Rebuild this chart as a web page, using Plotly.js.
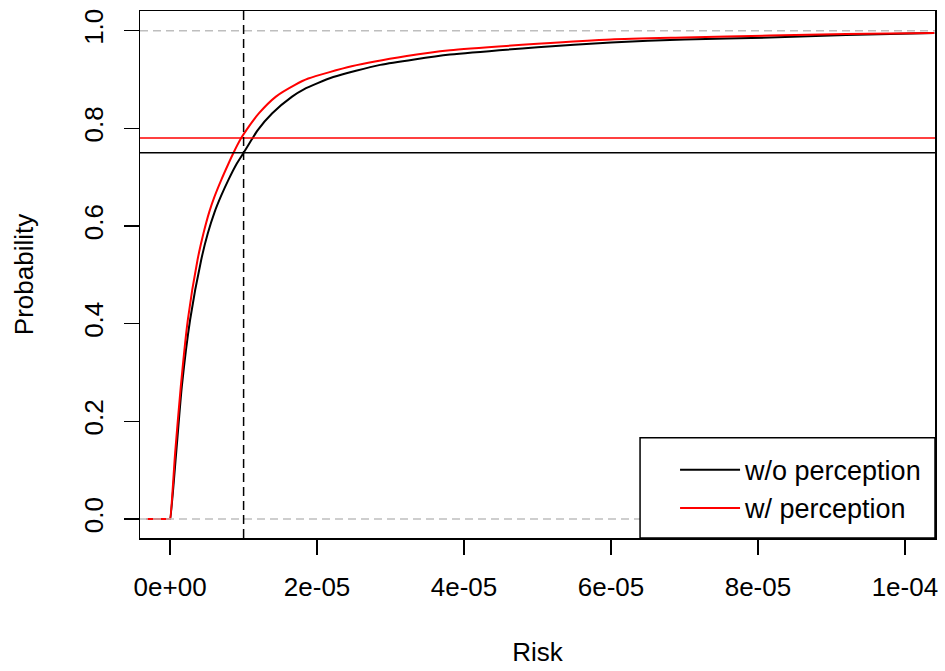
<!DOCTYPE html>
<html>
<head>
<meta charset="utf-8">
<script src="https://cdn.plot.ly/plotly-3.0.1.min.js"></script>
<style>html,body{margin:0;padding:0;background:#fff;}#chart{width:945px;height:671px;}</style>
</head>
<body>
<div id="chart"></div>
<script>
// Risk values (x) and cumulative probability (y)
const riskNoPerception = [-3.2e-6, -0.05e-6, 0, 0.82e-6, 1.59e-6, 2.72e-6, 4.22e-6, 5.13e-6, 6.04e-6, 6.95e-6, 7.95e-6, 9.08e-6, 1.0e-5, 1.11e-5, 1.19e-5, 1.39e-5, 1.66e-5, 1.82e-5, 2.22e-5, 2.86e-5, 3.81e-5, 5.0e-5, 6.0e-5, 7.0e-5, 8.16e-5, 9.2e-5, 1.04e-4];
const probNoPerception = [0, 0, 0, 0.135, 0.271, 0.408, 0.530, 0.585, 0.628, 0.662, 0.695, 0.728, 0.750, 0.777, 0.796, 0.831, 0.865, 0.880, 0.905, 0.930, 0.951, 0.966, 0.976, 0.982, 0.986, 0.991, 0.995];
const riskPerception = [-3.2e-6, -0.05e-6, 0, 0.68e-6, 1.45e-6, 2.41e-6, 3.72e-6, 4.54e-6, 5.31e-6, 6.04e-6, 6.95e-6, 7.95e-6, 8.63e-6, 9.67e-6, 1.04e-5, 1.21e-5, 1.44e-5, 1.70e-5, 1.88e-5, 2.47e-5, 3.22e-5, 3.81e-5, 5.0e-5, 6.0e-5, 7.0e-5, 8.16e-5, 9.2e-5, 1.04e-4];
const probPerception = [0, 0, 0, 0.135, 0.271, 0.408, 0.530, 0.585, 0.628, 0.660, 0.694, 0.728, 0.750, 0.780, 0.797, 0.831, 0.865, 0.889, 0.902, 0.927, 0.948, 0.960, 0.973, 0.982, 0.986, 0.990, 0.993, 0.995];

const seriesNames = ["w/o perception", "w/ perception"];
const seriesColors = ["#000000", "#ff0000"];
const thresholdProb = [0.75, 0.78];   // horizontal reference levels
const thresholdRisk = 1e-5;           // vertical reference
const boundLevels = [0, 1];           // gray dashed bounds

const xTickVals = [0, 2e-5, 4e-5, 6e-5, 8e-5, 1e-4];
const xTickText = ["0e+00", "2e-05", "4e-05", "6e-05", "8e-05", "1e-04"];
const yTickVals = [0, 0.2, 0.4, 0.6, 0.8, 1.0];
const yTickText = ["0.0", "0.2", "0.4", "0.6", "0.8", "1.0"];

const FONT = "Liberation Sans, Arial, sans-serif";

const traces = [
  {x: riskNoPerception, y: probNoPerception, name: seriesNames[0], mode: "lines",
   line: {color: seriesColors[0], width: 2, shape: "spline", smoothing: 0.6}},
  {x: riskPerception, y: probPerception, name: seriesNames[1], mode: "lines",
   line: {color: seriesColors[1], width: 2, shape: "spline", smoothing: 0.6}}
];

const shapes = [];
boundLevels.forEach(v => shapes.push({type: "line", xref: "paper", x0: 0, x1: 1, yref: "y", y0: v, y1: v,
  line: {color: "#bebebe", width: 1.5, dash: "8px,5px"}}));
thresholdProb.forEach((v, i) => shapes.push({type: "line", xref: "paper", x0: 0, x1: 1, yref: "y", y0: v, y1: v,
  line: {color: seriesColors[i], width: 1.5}}));
shapes.push({type: "line", xref: "x", x0: thresholdRisk, x1: thresholdRisk, yref: "paper", y0: 0, y1: 1,
  line: {color: "#000000", width: 1.5, dash: "9px,5px"}});
// legend box
shapes.push({type: "rect", xref: "paper", yref: "paper", x0: 0.629, x1: 1, y0: 0, y1: 0.19,
  line: {color: "#000000", width: 1.5}, fillcolor: "rgba(255,255,255,1)", layer: "above"});

const axisCommon = {
  showgrid: false, zeroline: false, showline: true, mirror: true,
  linecolor: "#000000", linewidth: 1.5, ticks: "outside", ticklen: 15, tickwidth: 1.5,
  tickcolor: "#000000", tickfont: {family: FONT, size: 26, color: "#000000"}, automargin: false
};

const layout = {
  width: 945, height: 671,
  margin: {l: 140, r: 10, t: 11, b: 133},
  paper_bgcolor: "#ffffff", plot_bgcolor: "#ffffff",
  font: {family: FONT, size: 26, color: "#000000"},
  xaxis: Object.assign({}, axisCommon, {
    range: [-4.1e-6, 1.041e-4], tickmode: "array", tickvals: xTickVals, ticktext: xTickText,
    ticklabelstandoff: 10,
    title: {text: "Risk", font: {family: FONT, size: 26, color: "#000000"}, standoff: 42}
  }),
  yaxis: Object.assign({}, axisCommon, {
    range: [-0.0389, 1.0403], tickmode: "array", tickvals: yTickVals, ticktext: yTickText,
    tickangle: -90, ticklabelstandoff: 10,
    title: {text: "Probability", font: {family: FONT, size: 26, color: "#000000"}, standoff: 38}
  }),
  shapes: shapes,
  showlegend: true,
  legend: {x: 0.99, y: 0.01, xanchor: "right", yanchor: "bottom", bgcolor: "rgba(0,0,0,0)",
    borderwidth: 0, font: {family: FONT, size: 27, color: "#000000"}, itemwidth: 60, tracegroupgap: 0}
};

Plotly.newPlot("chart", traces, layout, {displayModeBar: false, staticPlot: true});
</script>
</body>
</html>
